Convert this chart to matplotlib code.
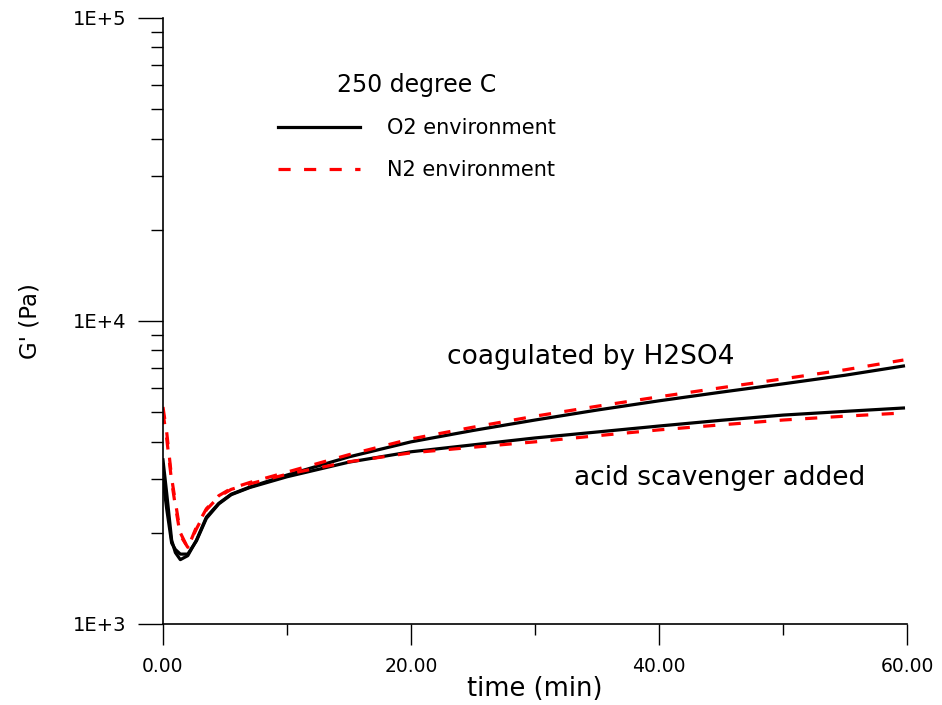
import numpy as np
import matplotlib.pyplot as plt
from matplotlib.ticker import FixedLocator, FixedFormatter, LogLocator, NullFormatter

plt.rcParams['font.family'] = ['DejaVu Sans']

# time (min)
t = [0, 0.3, 0.7, 1.0, 1.4, 2.0, 2.7, 3.5, 4.5, 5.5, 7, 10, 15, 20, 25, 30, 35, 40, 45, 50, 55, 59.7]

# G' (Pa) - coagulated by H2SO4
coag_o2 = [3480, 2700, 1890, 1720, 1630, 1680, 1890, 2250, 2500, 2680, 2830, 3100, 3560, 3990,
           4350, 4710, 5080, 5450, 5820, 6200, 6620, 7100]
coag_n2 = [5200, 4300, 3030, 2530, 2000, 1780, 2090, 2400, 2650, 2800, 2930, 3170, 3620, 4080,
           4460, 4850, 5230, 5620, 6020, 6440, 6900, 7430]

# G' (Pa) - acid scavenger added
scav_o2 = [3000, 2400, 1850, 1760, 1700, 1700, 1880, 2230, 2490, 2670, 2820, 3060, 3420, 3700,
           3900, 4110, 4300, 4500, 4700, 4890, 5030, 5160]
scav_n2 = [5000, 4100, 2950, 2450, 1960, 1790, 2060, 2380, 2630, 2780, 2900, 3120, 3430, 3670,
           3830, 3990, 4180, 4370, 4540, 4710, 4850, 4970]

x_ticks = [0, 20, 40, 60]
x_ticklabels = ['0.00', '20.00', '40.00', '60.00']
y_ticks = [1e3, 1e4, 1e5]
y_ticklabels = ['1E+3', '1E+4', '1E+5']

fig = plt.figure(figsize=(9.42, 7.05), dpi=100)
ax = fig.add_axes([0.173, 0.115, 0.79, 0.8595])

red_dash = (0, (3.8, 4.2))
l1, = ax.plot(t, coag_o2, color='black', lw=2.3, label='O2 environment')
l2, = ax.plot(t, coag_n2, color='red', lw=2.3, ls=red_dash, label='N2 environment')
ax.plot(t, scav_o2, color='black', lw=2.3)
ax.plot(t, scav_n2, color='red', lw=2.3, ls=red_dash)

ax.set_yscale('log')
ax.set_xlim(0, 60)
ax.set_ylim(1e3, 1e5)

ax.xaxis.set_major_locator(FixedLocator(x_ticks))
ax.xaxis.set_major_formatter(FixedFormatter(x_ticklabels))
ax.xaxis.set_minor_locator(FixedLocator([10, 30, 50]))
ax.yaxis.set_major_locator(FixedLocator(y_ticks))
ax.yaxis.set_major_formatter(FixedFormatter(y_ticklabels))
ax.yaxis.set_minor_locator(LogLocator(base=10, subs=np.arange(2, 10)))
ax.yaxis.set_minor_formatter(NullFormatter())

for s in ['top', 'right']:
    ax.spines[s].set_visible(False)
ax.spines['left'].set_linewidth(1.2)
ax.spines['bottom'].set_linewidth(1.2)

ax.tick_params(axis='x', which='major', length=15, width=1, pad=9, labelsize=13.5)
ax.tick_params(axis='x', which='minor', length=8, width=1)
ax.tick_params(axis='y', which='major', length=18, width=1, pad=8, labelsize=14)
ax.tick_params(axis='y', which='minor', length=9, width=1)

ax.set_xlabel('time (min)', fontsize=18.5, labelpad=0)
ax.set_ylabel("G' (Pa)", fontsize=16.5, labelpad=23)

ax.text(22.9, 7600, 'coagulated by H2SO4', fontsize=19, va='center')
ax.text(33.1, 3030, 'acid scavenger added', fontsize=19, va='center')

leg = ax.legend(handles=[l1, l2], loc='upper left', bbox_to_anchor=(0.13, 0.94),
                frameon=False, fontsize=15, title='250 degree C', title_fontsize=17,
                handlelength=3.9, handletextpad=1.3, labelspacing=1.05)
leg._legend_box.sep = 15

fig.savefig('out.png', dpi=100)
